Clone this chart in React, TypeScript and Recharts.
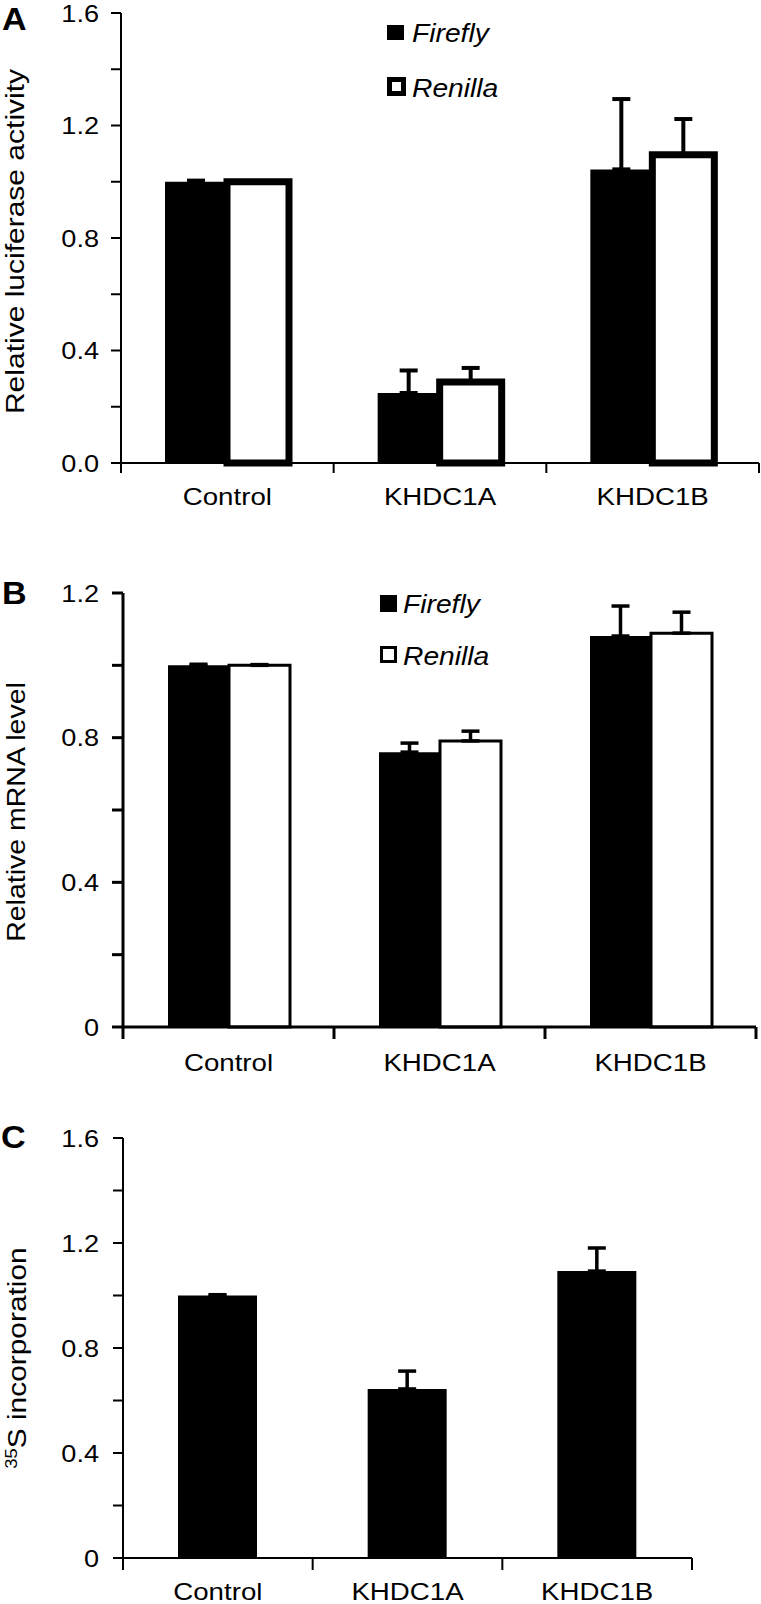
import React from 'react';
import { BarChart, Bar, XAxis, YAxis, ErrorBar, Legend } from 'recharts';

const FONT = '"Liberation Sans", Arial, Helvetica, sans-serif';
const SX = 1.13;

// ---------- data ----------
const categories = ['Control', 'KHDC1A', 'KHDC1B'];
const seriesNames = ['Firefly', 'Renilla'];

// Panel A – relative luciferase activity
const lucFirefly = [1.0, 0.249, 1.044];
const lucFireflyErr = [0.004, 0.08, 0.25];
const lucRenilla = [1.0, 0.288, 1.096];
const lucRenillaErr = [0.002, 0.05, 0.127];
const lucTicks = [0, 0.2, 0.4, 0.6, 0.8, 1.0, 1.2, 1.4, 1.6];
const lucTickLabels = ['0.0', '', '0.4', '', '0.8', '', '1.2', '', '1.6'];

// Panel B – relative mRNA level
const mrnaFirefly = [1.0, 0.76, 1.081];
const mrnaFireflyErr = [0.003, 0.025, 0.083];
const mrnaRenilla = [1.0, 0.791, 1.089];
const mrnaRenillaErr = [0.002, 0.027, 0.058];
const mrnaTicks = [0, 0.2, 0.4, 0.6, 0.8, 1.0, 1.2];
const mrnaTickLabels = ['0', '', '0.4', '', '0.8', '', '1.2'];

// Panel C – 35S incorporation
const s35Values = [1.0, 0.644, 1.093];
const s35Err = [0.003, 0.068, 0.088];
const s35Ticks = [0, 0.2, 0.4, 0.6, 0.8, 1.0, 1.2, 1.4, 1.6];
const s35TickLabels = ['0', '', '0.4', '', '0.8', '', '1.2', '', '1.6'];

const lucData = categories.map((name, i) => ({
  name,
  firefly: lucFirefly[i],
  renilla: lucRenilla[i],
  fireflyErr: [0, lucFireflyErr[i]],
  renillaErr: [0, lucRenillaErr[i]],
}));
const mrnaData = categories.map((name, i) => ({
  name,
  firefly: mrnaFirefly[i],
  renilla: mrnaRenilla[i],
  fireflyErr: [0, mrnaFireflyErr[i]],
  renillaErr: [0, mrnaRenillaErr[i]],
}));
const s35Data = categories.map((name, i) => ({
  name,
  value: s35Values[i],
  err: [0, s35Err[i]],
}));

// ---------- helpers ----------
function makeYTick(ticks: number[], labels: string[], textRight: number, fontSize: number) {
  return (props: any) => {
    const { y, payload } = props;
    const idx = ticks.findIndex((t) => Math.abs(t - Number(payload.value)) < 1e-6);
    const label = idx >= 0 ? labels[idx] : '';
    if (!label) return <g />;
    return (
      <text
        transform={`translate(${textRight},${y}) scale(${SX},1)`}
        textAnchor="end"
        dy="0.355em"
        fontSize={fontSize}
        fontFamily={FONT}
        fill="#000"
      >
        {label}
      </text>
    );
  };
}

function makeXTick(cfg: {
  axisY: number;
  tickLen: number;
  lineWidth: number;
  fontSize: number;
  baseline: number;
  halfBand: number;
  n: number;
}) {
  return (props: any) => {
    const { x, payload, index } = props;
    const half = typeof payload?.offset === 'number' && payload.offset > 0 ? payload.offset : cfg.halfBand;
    return (
      <g>
        <line x1={x - half} x2={x - half} y1={cfg.axisY} y2={cfg.axisY + cfg.tickLen} stroke="#000" strokeWidth={cfg.lineWidth} />
        {index === cfg.n - 1 && (
          <line x1={x + half} x2={x + half} y1={cfg.axisY} y2={cfg.axisY + cfg.tickLen} stroke="#000" strokeWidth={cfg.lineWidth} />
        )}
        <text
          transform={`translate(${x},${cfg.baseline}) scale(${SX},1)`}
          textAnchor="middle"
          fontSize={cfg.fontSize}
          fontFamily={FONT}
          fill="#000"
        >
          {payload.value}
        </text>
      </g>
    );
  };
}

function makeYTitle(content: React.ReactNode, x: number, cy: number, size: number, sx: number) {
  return () => (
    <text
      transform={`translate(${x},${cy}) rotate(-90) scale(${sx},1)`}
      textAnchor="middle"
      fontSize={size}
      fontFamily={FONT}
      fill="#000"
    >
      {content}
    </text>
  );
}

const seriesStyle = [
  { fill: '#000', stroke: '#000' },
  { fill: '#fff', stroke: '#000' },
];

function makeLegend(cfg: {
  w: number;
  h: number;
  boxes: { x: number; y: number; w: number; h: number; sw: number }[];
  textX: number;
  baselines: number[];
  fontSize: number;
}) {
  return (props: any) => {
    const payload = props.payload || [];
    return (
      <svg width={cfg.w} height={cfg.h} style={{ display: 'block', overflow: 'visible' }}>
        {payload.map((entry: any, i: number) => {
          const b = cfg.boxes[i];
          const st = seriesStyle[i] || seriesStyle[0];
          return (
            <g key={String(entry.value)}>
              <rect x={b.x} y={b.y} width={b.w} height={b.h} fill={st.fill} stroke={st.stroke} strokeWidth={b.sw} />
              <text
                transform={`translate(${cfg.textX},${cfg.baselines[i]}) scale(${SX},1)`}
                fontSize={cfg.fontSize}
                fontStyle="italic"
                fontFamily={FONT}
                fill="#000"
              >
                {entry.value}
              </text>
            </g>
          );
        })}
      </svg>
    );
  };
}

// ---------- panel A ----------
const A_TOP = 0;
const A_H = 530;
const A_PLOT_TOP = 13;
const A_PLOT_BOTTOM = 463;
const A_LEFT = 121;
const A_RIGHT_MARGIN = 2;

function PanelA() {
  const halfBand = (761 - A_RIGHT_MARGIN - A_LEFT) / 3 / 2;
  return (
    <div style={{ position: 'absolute', left: 0, top: A_TOP }}>
      <BarChart
        width={761}
        height={A_H}
        data={lucData}
        margin={{ top: A_PLOT_TOP, right: A_RIGHT_MARGIN, bottom: 0, left: 0 }}
        barGap={0}
      >
        <XAxis
          dataKey="name"
          height={A_H - A_PLOT_BOTTOM}
          interval={0}
          tickLine={false}
          axisLine={{ stroke: '#000', strokeWidth: 2 }}
          tick={makeXTick({ axisY: A_PLOT_BOTTOM, tickLen: 10, lineWidth: 2, fontSize: 24.5, baseline: A_PLOT_BOTTOM + 41.5, halfBand, n: categories.length })}
        />
        <YAxis
          type="number"
          domain={[0, 1.6]}
          ticks={lucTicks}
          interval={0}
          width={A_LEFT}
          tickSize={10}
          tickMargin={12}
          axisLine={{ stroke: '#000', strokeWidth: 2 }}
          tickLine={{ stroke: '#000', strokeWidth: 2 }}
          tick={makeYTick(lucTicks, lucTickLabels, 99, 24)}
          label={makeYTitle('Relative luciferase activity', 23.5, 241.5, 25, 1.2)}
        />
        <Legend
          layout="vertical"
          align="center"
          verticalAlign="middle"
          wrapperStyle={{ position: 'absolute', left: 380, top: 20, width: 140, height: 90, margin: 0, padding: 0, lineHeight: 0 }}
          content={makeLegend({
            w: 140,
            h: 90,
            boxes: [
              { x: 7, y: 5, w: 17, h: 15, sw: 0 },
              { x: 9.5, y: 59.5, w: 14, h: 14, sw: 5 },
            ],
            textX: 32,
            baselines: [22, 77],
            fontSize: 25,
          })}
        />
        <Bar dataKey="firefly" name={seriesNames[0]} fill="#000" barSize={62} isAnimationActive={false}>
          <ErrorBar dataKey="fireflyErr" direction="y" width={9} strokeWidth={4} stroke="#000" isAnimationActive={false} />
        </Bar>
        <Bar dataKey="renilla" name={seriesNames[1]} fill="#fff" stroke="#000" strokeWidth={7} barSize={62} isAnimationActive={false}>
          <ErrorBar dataKey="renillaErr" direction="y" width={9} strokeWidth={4} stroke="#000" isAnimationActive={false} />
        </Bar>
      </BarChart>
    </div>
  );
}

// ---------- panel B ----------
const B_TOP = 560;
const B_H = 540;
const B_PLOT_TOP = 593 - B_TOP;
const B_PLOT_BOTTOM = 1027 - B_TOP;
const B_LEFT = 123;
const B_RIGHT_MARGIN = 5;

function PanelB() {
  const halfBand = (761 - B_RIGHT_MARGIN - B_LEFT) / 3 / 2;
  return (
    <div style={{ position: 'absolute', left: 0, top: B_TOP }}>
      <BarChart
        width={761}
        height={B_H}
        data={mrnaData}
        margin={{ top: B_PLOT_TOP, right: B_RIGHT_MARGIN, bottom: 0, left: 0 }}
        barGap={0}
      >
        <XAxis
          dataKey="name"
          height={B_H - B_PLOT_BOTTOM}
          interval={0}
          tickLine={false}
          axisLine={{ stroke: '#000', strokeWidth: 3 }}
          tick={makeXTick({ axisY: B_PLOT_BOTTOM, tickLen: 12, lineWidth: 3, fontSize: 24.5, baseline: B_PLOT_BOTTOM + 43.5, halfBand, n: categories.length })}
        />
        <YAxis
          type="number"
          domain={[0, 1.2]}
          ticks={mrnaTicks}
          interval={0}
          width={B_LEFT}
          tickSize={11}
          tickMargin={13}
          axisLine={{ stroke: '#000', strokeWidth: 3 }}
          tickLine={{ stroke: '#000', strokeWidth: 3 }}
          tick={makeYTick(mrnaTicks, mrnaTickLabels, 99, 24)}
          label={makeYTitle('Relative mRNA level', 24.5, 812 - B_TOP, 25, 1.14)}
        />
        <Legend
          layout="vertical"
          align="center"
          verticalAlign="middle"
          wrapperStyle={{ position: 'absolute', left: 370, top: 30, width: 140, height: 90, margin: 0, padding: 0, lineHeight: 0 }}
          content={makeLegend({
            w: 140,
            h: 90,
            boxes: [
              { x: 10, y: 5, w: 17, h: 17, sw: 0 },
              { x: 11.5, y: 57.5, w: 14, h: 14, sw: 3 },
            ],
            textX: 33,
            baselines: [23, 75],
            fontSize: 25,
          })}
        />
        <Bar dataKey="firefly" name={seriesNames[0]} fill="#000" barSize={61} isAnimationActive={false}>
          <ErrorBar dataKey="fireflyErr" direction="y" width={9} strokeWidth={3.5} stroke="#000" isAnimationActive={false} />
        </Bar>
        <Bar dataKey="renilla" name={seriesNames[1]} fill="#fff" stroke="#000" strokeWidth={3} barSize={61} isAnimationActive={false}>
          <ErrorBar dataKey="renillaErr" direction="y" width={9} strokeWidth={3.5} stroke="#000" isAnimationActive={false} />
        </Bar>
      </BarChart>
    </div>
  );
}

// ---------- panel C ----------
const C_TOP = 1100;
const C_H = 504;
const C_PLOT_TOP = 1138 - C_TOP;
const C_PLOT_BOTTOM = 1558 - C_TOP;
const C_LEFT = 123;
const C_RIGHT_MARGIN = 69;

function PanelC() {
  const halfBand = (761 - C_RIGHT_MARGIN - C_LEFT) / 3 / 2;
  const title = (
    <>
      <tspan fontSize={16} dy={-9}>35</tspan>
      <tspan dy={9}>S incorporation</tspan>
    </>
  );
  return (
    <div style={{ position: 'absolute', left: 0, top: C_TOP }}>
      <BarChart
        width={761}
        height={C_H}
        data={s35Data}
        margin={{ top: C_PLOT_TOP, right: C_RIGHT_MARGIN, bottom: 0, left: 0 }}
      >
        <XAxis
          dataKey="name"
          height={C_H - C_PLOT_BOTTOM}
          interval={0}
          tickLine={false}
          axisLine={{ stroke: '#000', strokeWidth: 2 }}
          tick={makeXTick({ axisY: C_PLOT_BOTTOM, tickLen: 12, lineWidth: 2, fontSize: 24.5, baseline: C_PLOT_BOTTOM + 41.5, halfBand, n: categories.length })}
        />
        <YAxis
          type="number"
          domain={[0, 1.6]}
          ticks={s35Ticks}
          interval={0}
          width={C_LEFT}
          tickSize={10}
          tickMargin={14}
          axisLine={{ stroke: '#000', strokeWidth: 2 }}
          tickLine={{ stroke: '#000', strokeWidth: 2 }}
          tick={makeYTick(s35Ticks, s35TickLabels, 99, 24)}
          label={makeYTitle(title, 25.5, 1358 - C_TOP, 26, 1.15)}
        />
        <Bar dataKey="value" name="35S incorporation" fill="#000" barSize={79} isAnimationActive={false}>
          <ErrorBar dataKey="err" direction="y" width={9} strokeWidth={3.5} stroke="#000" isAnimationActive={false} />
        </Bar>
      </BarChart>
    </div>
  );
}

const panelLetters = [
  { t: 'A', x: 2, y: 30 },
  { t: 'B', x: 2, y: 604 },
  { t: 'C', x: 1, y: 1148 },
];

export default function App() {
  return (
    <div style={{ position: 'absolute', left: 0, top: 0, width: 761, height: 1604, background: '#fff', overflow: 'hidden' }}>
      <PanelA />
      <PanelB />
      <PanelC />
      <svg width={761} height={1604} style={{ position: 'absolute', left: 0, top: 0, pointerEvents: 'none' }}>
        {panelLetters.map((p) => (
          <text
            key={p.t}
            transform={`translate(${p.x},${p.y}) scale(1.1,1)`}
            fontSize={31}
            fontWeight="bold"
            fontFamily={FONT}
            fill="#000"
          >
            {p.t}
          </text>
        ))}
      </svg>
    </div>
  );
}
